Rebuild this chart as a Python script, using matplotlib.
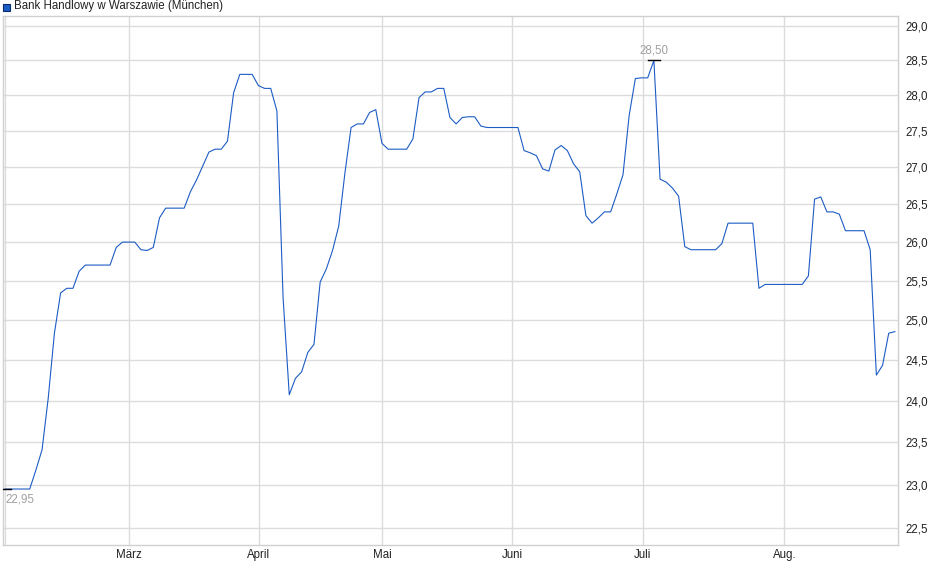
import matplotlib
matplotlib.use("Agg")
import matplotlib.pyplot as plt
from matplotlib.ticker import FixedLocator, FuncFormatter, NullLocator
from matplotlib.patches import Rectangle
import numpy as np

plt.rcParams["font.family"] = ["Liberation Sans", "DejaVu Sans"]

# Daily closing prices (EUR), one value per trading session
prices = [
    22.95, 22.95, 22.95, 22.95, 22.95, 23.17, 23.41, 24.03, 24.83, 25.34,
    25.40, 25.40, 25.62, 25.70, 25.70, 25.70, 25.70, 25.70, 25.93, 26.00,
    26.00, 26.00, 25.90, 25.89, 25.93, 26.32, 26.45, 26.45, 26.45, 26.45,
    26.67, 26.83, 27.02, 27.21, 27.25, 27.25, 27.36, 28.04, 28.30, 28.30,
    28.30, 28.14, 28.10, 28.10, 27.78, 25.28, 24.07, 24.27, 24.35, 24.59,
    24.69, 25.48, 25.65, 25.89, 26.21, 26.92, 27.55, 27.60, 27.60, 27.76,
    27.80, 27.33, 27.25, 27.25, 27.25, 27.25, 27.39, 27.97, 28.05, 28.05,
    28.10, 28.10, 27.69, 27.60, 27.69, 27.70, 27.70, 27.57, 27.55, 27.55,
    27.55, 27.55, 27.55, 27.55, 27.23, 27.20, 27.16, 26.98, 26.95, 27.24,
    27.30, 27.23, 27.05, 26.94, 26.35, 26.25, 26.32, 26.40, 26.40, 26.64,
    26.90, 27.72, 28.24, 28.25, 28.25, 28.50, 26.84, 26.80, 26.72, 26.61,
    25.94, 25.90, 25.90, 25.90, 25.90, 25.90, 25.98, 26.25, 26.25, 26.25,
    26.25, 26.25, 25.40, 25.45, 25.45, 25.45, 25.45, 25.45, 25.45, 25.45,
    25.56, 26.57, 26.60, 26.40, 26.40, 26.37, 26.15, 26.15, 26.15, 26.15,
    25.90, 24.31, 24.43, 24.83, 24.85,
]

# Month starts, as session positions
month_labels = ["März", "April", "Mai", "Juni", "Juli", "Aug."]
month_pos = [20.1, 41.05, 61.05, 82.1, 103.2, 126.1]

y_ticks = [22.5, 23.0, 23.5, 24.0, 24.5, 25.0, 25.5, 26.0, 26.5, 27.0, 27.5, 28.0, 28.5, 29.0]

title = "Bank Handlowy w Warszawie (München)"
line_color = "#1c5cc4"
grid_color = "#dcdcdc"

sessions = np.arange(len(prices))
prices = np.array(prices)

fig = plt.figure(figsize=(9.4, 5.79), dpi=100)
ax = fig.add_axes([3 / 940, 1 - 545 / 579, 895 / 940, 529 / 579])

ax.plot(sessions, prices, color=line_color, linewidth=0.8, zorder=3)

ax.set_yscale("log")
ax.set_ylim(22.31, 29.147)
ax.set_xlim(-0.32, 144.5)

ax.yaxis.set_major_locator(FixedLocator(y_ticks))
ax.yaxis.set_minor_locator(NullLocator())
ax.yaxis.set_major_formatter(FuncFormatter(lambda v, p: f"{v:.1f}".replace(".", ",")))
ax.yaxis.tick_right()

ax.set_xticks(month_pos)
ax.set_xticklabels(month_labels)
ax.xaxis.set_minor_locator(FixedLocator([0]))

ax.grid(True, which="major", color=grid_color, linewidth=1.0, zorder=0)
ax.grid(True, which="minor", axis="x", color=grid_color, linewidth=1.0, zorder=0)
ax.tick_params(axis="both", which="both", length=0, labelsize=8.3, colors="#222222")
ax.tick_params(axis="y", pad=5)
ax.tick_params(axis="x", pad=3)

for sp in ax.spines.values():
    sp.set_color("#d0d0d0")
    sp.set_linewidth(1.0)

# high / low markers
hi = int(np.argmax(prices))
lo = int(np.argmin(prices))
ax.plot([hi - 1.0, hi + 1.0], [prices[hi]] * 2, color="black", linewidth=1.0, zorder=4)
ax.plot([lo - 0.6, lo + 0.9], [prices[lo]] * 2, color="black", linewidth=1.0, zorder=4)
ax.annotate(f"{prices[hi]:.2f}".replace(".", ","), (hi, prices[hi]), xytext=(0, 3),
            textcoords="offset points", ha="center", va="bottom",
            fontsize=8.3, color="#a0a0a0")
ax.annotate(f"{prices[lo]:.2f}".replace(".", ","), (lo, prices[lo]), xytext=(0, -3),
            textcoords="offset points", ha="left", va="top",
            fontsize=8.3, color="#a0a0a0")

# legend box at top
fig.patches.append(Rectangle((3 / 940, 1 - 11 / 579), 7 / 940, 7 / 579,
                             transform=fig.transFigure, facecolor=line_color,
                             edgecolor="#0a2a6a", linewidth=0.8))
fig.text(14 / 940, 1 - 6.5 / 579, title, fontsize=8.3, color="#222222",
         ha="left", va="center")

fig.savefig("out.png", dpi=100)
